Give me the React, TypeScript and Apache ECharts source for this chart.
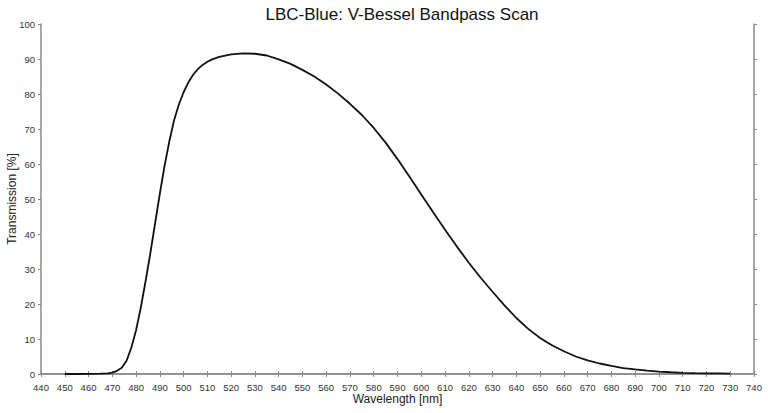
import React, { useEffect, useRef } from "react";
import * as echarts from "echarts";

const wavelengths = [
  450, 455, 460, 465, 468, 470, 472, 474, 476, 478, 480, 482, 484, 486, 488, 490, 492, 494, 496, 498,
  500, 502, 504, 506, 508, 510, 512, 515, 520, 525, 530, 535, 540, 545, 550, 555, 560, 565, 570, 575,
  580, 585, 590, 595, 600, 605, 610, 615, 620, 625, 630, 635, 640, 645, 650, 655, 660, 665, 670, 675,
  680, 685, 690, 695, 700, 705, 710, 715, 720, 725, 730,
];
const transmission = [
  0.0, 0.0, 0.05, 0.1, 0.2, 0.4, 0.9, 1.8, 3.8, 7.5, 12.5, 19, 26.5, 34.5, 43, 51.5, 59.5, 66.5, 72.5, 77,
  80.5, 83.3, 85.5, 87.1, 88.3, 89.2, 89.9, 90.6, 91.3, 91.6, 91.5, 91, 89.9, 88.6, 86.9, 85, 82.7, 80.1, 77.2, 74,
  70.3, 66.1, 61.4, 56.4, 51.3, 46.2, 41.2, 36.4, 31.8, 27.5, 23.5, 19.6, 16, 12.9, 10.3, 8.2, 6.5, 5, 3.9, 3.0,
  2.3, 1.7, 1.3, 0.95, 0.7, 0.5, 0.35, 0.25, 0.2, 0.15, 0.1,
];

const titleText = "LBC-Blue: V-Bessel Bandpass Scan";
const xName = "Wavelength [nm]";
const yName = "Transmission [%]";

const axisGray = "#8a8a8a";
const labelColor = "#333";
const fontFamily = "'Liberation Sans', Arial, Helvetica, sans-serif";

export default function App() {
  const ref = useRef<HTMLDivElement>(null);
  useEffect(() => {
    if (!ref.current) return;
    const chart = echarts.init(ref.current, null, { renderer: "svg" });
    const axisLine = { show: true, lineStyle: { color: axisGray, width: 1.5 } };
    const axisTick = { show: true, length: 3, lineStyle: { color: axisGray, width: 1 } };
    chart.setOption({
      animation: false,
      backgroundColor: "#fff",
      title: {
        text: titleText,
        left: 397,
        top: 1,
        textAlign: "center",
        textStyle: { fontFamily, fontSize: 17, fontWeight: "normal", color: "#111" },
      },
      grid: {
        left: 41,
        right: 14,
        top: 24,
        bottom: 39,
        containLabel: false,
        outerBoundsMode: "none",
      },
      graphic: [
        {
          type: "text",
          x: 397.5,
          y: 399,
          style: {
            text: xName,
            font: `12px ${fontFamily}`,
            fill: "#222",
            align: "center",
            verticalAlign: "middle",
          },
        },
        {
          type: "text",
          x: 12,
          y: 199,
          rotation: Math.PI / 2,
          style: {
            text: yName,
            font: `12px ${fontFamily}`,
            fill: "#222",
            align: "center",
            verticalAlign: "middle",
          },
        },
      ],
      xAxis: [
        {
          type: "value",
          min: 440,
          max: 740,
          interval: 10,
          position: "bottom",
          axisLine,
          axisTick,
          axisLabel: { fontFamily, fontSize: 9.5, color: labelColor, margin: 8 },
          splitLine: { show: false },
        },
        {
          type: "value",
          min: 440,
          max: 740,
          interval: 10,
          position: "top",
          axisLine,
          axisTick,
          axisLabel: { show: false },
          splitLine: { show: false },
        },
      ],
      yAxis: [
        {
          type: "value",
          min: 0,
          max: 100,
          interval: 10,
          position: "left",
          axisLine,
          axisTick,
          axisLabel: { fontFamily, fontSize: 9.5, color: labelColor, margin: 6 },
          splitLine: { show: false },
        },
        {
          type: "value",
          min: 0,
          max: 100,
          interval: 10,
          position: "right",
          axisLine,
          axisTick,
          axisLabel: { show: false },
          splitLine: { show: false },
        },
      ],
      series: [
        {
          type: "line",
          xAxisIndex: 0,
          yAxisIndex: 0,
          data: wavelengths.map((w, i) => [w, transmission[i]]),
          showSymbol: false,
          symbol: "none",
          smooth: false,
          lineStyle: { color: "#111", width: 1.8 },
        },
      ],
    });
    return () => chart.dispose();
  }, []);
  return <div ref={ref} style={{ width: 768, height: 413, position: "absolute", left: 0, top: 0 }} />;
}
